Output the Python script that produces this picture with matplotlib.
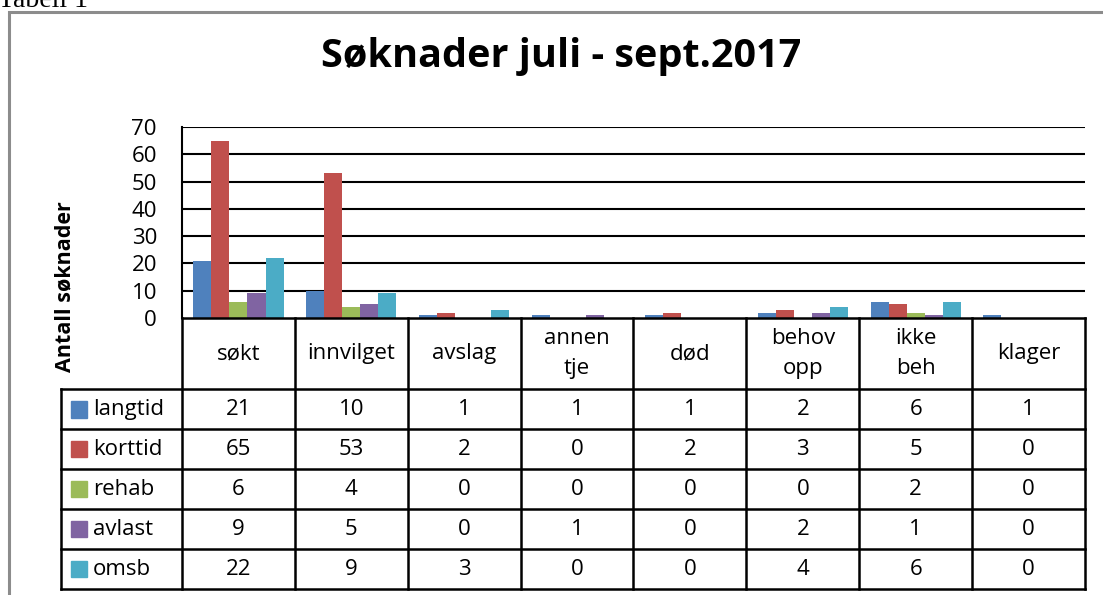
import numpy as np
import matplotlib.pyplot as plt
from matplotlib.patches import Rectangle

categories = ["søkt", "innvilget", "avslag", "annen\ntje", "død", "behov\nopp", "ikke\nbeh", "klager"]
series_names = ["langtid", "korttid", "rehab", "avlast", "omsb"]
langtid = [21, 10, 1, 1, 1, 2, 6, 1]
korttid = [65, 53, 2, 0, 2, 3, 5, 0]
rehab = [6, 4, 0, 0, 0, 0, 2, 0]
avlast = [9, 5, 0, 1, 0, 2, 1, 0]
omsb = [22, 9, 3, 0, 0, 4, 6, 0]
series = [langtid, korttid, rehab, avlast, omsb]
colors = ["#4F81BD", "#C0504D", "#9BBB59", "#8064A2", "#4BACC6"]
yticks = [0, 10, 20, 30, 40, 50, 60, 70]

plt.rcParams['font.family'] = ['Open Sans', 'DejaVu Sans']

W, H = 1103, 595
fig = plt.figure(figsize=(W / 100, H / 100), dpi=100)
FS = 16


def box(x0, y0, x1, y1):
    # pixel box (top-left origin) -> figure fraction rect
    return [x0 / W, 1 - y1 / H, (x1 - x0) / W, (y1 - y0) / H]


# outer chart frame and caption
fig.patches.append(Rectangle((9 / W, -0.05), 1.2, 1 - 12 / H + 0.05, transform=fig.transFigure,
                             fill=False, edgecolor="#8c8c8c", linewidth=2.2))
fig.text(-2 / W, 1 - 7 / H, "Tabell 1", family="Liberation Serif", fontsize=20, va="baseline", ha="left")

fig.text(561 / W, 1 - 56 / H, "Søknader juli - sept.2017", fontsize=28.5, fontweight="bold",
         ha="center", va="center")

# bar area
ax = fig.add_axes(box(182, 127, 1085, 318))
n = len(series)
bw = 0.16
x = np.arange(len(categories))
for i, (vals, c) in enumerate(zip(series, colors)):
    ax.bar(x + (i - (n - 1) / 2) * bw, vals, width=bw, color=c, zorder=3)
ax.set_xlim(-0.5, len(categories) - 0.5)
ax.set_ylim(0, 70)
ax.set_yticks(yticks)
ax.tick_params(axis="y", length=0, labelsize=FS, pad=18)
ax.set_xticks([])
for yv in yticks[1:]:
    ax.axhline(yv, color="black", linewidth=1.5, zorder=1)
for s in ["top", "right", "bottom"]:
    ax.spines[s].set_visible(False)
ax.spines["left"].set_linewidth(1.5)
ax.set_facecolor("none")

fig.text(65 / W, 1 - 287 / H, "Antall søknader", rotation=90, fontsize=15.5, fontweight="bold",
         ha="center", va="center")

# data table below the bars
hdr = 1.78
nrow = len(series)
legw = 121 / 113
tax = fig.add_axes(box(61, 318, 1085, 589))
tax.set_xlim(-0.5 - legw, len(categories) - 0.5)
tax.set_ylim(hdr + nrow, 0)
tax.axis("off")
lk = dict(color="black", linewidth=1.8, solid_capstyle="projecting", clip_on=False)
x_right = len(categories) - 0.5
x_left = -0.5 - legw
tax.plot([-0.5, x_right], [0, 0], **lk)
for r in range(nrow + 1):
    tax.plot([x_left, x_right], [hdr + r, hdr + r], **lk)
tax.plot([x_left, x_left], [hdr, hdr + nrow], **lk)
for k in range(len(categories) + 1):
    tax.plot([k - 0.5, k - 0.5], [0, hdr + nrow], **lk)

for k, cat in enumerate(categories):
    tax.text(k, hdr / 2, cat, ha="center", va="center", fontsize=FS, linespacing=1.6)
    for r, vals in enumerate(series):
        tax.text(k, hdr + r + 0.5, str(vals[k]), ha="center", va="center", fontsize=FS)

for r, (name, c) in enumerate(zip(series_names, colors)):
    yc = hdr + r + 0.5
    tax.add_patch(Rectangle((x_left + 10 / 113, yc - 0.21), 16 / 113, 0.42, color=c))
    tax.text(x_left + 32 / 113, yc, name, ha="left", va="center", fontsize=FS)

fig.savefig("out.png", dpi=100)
